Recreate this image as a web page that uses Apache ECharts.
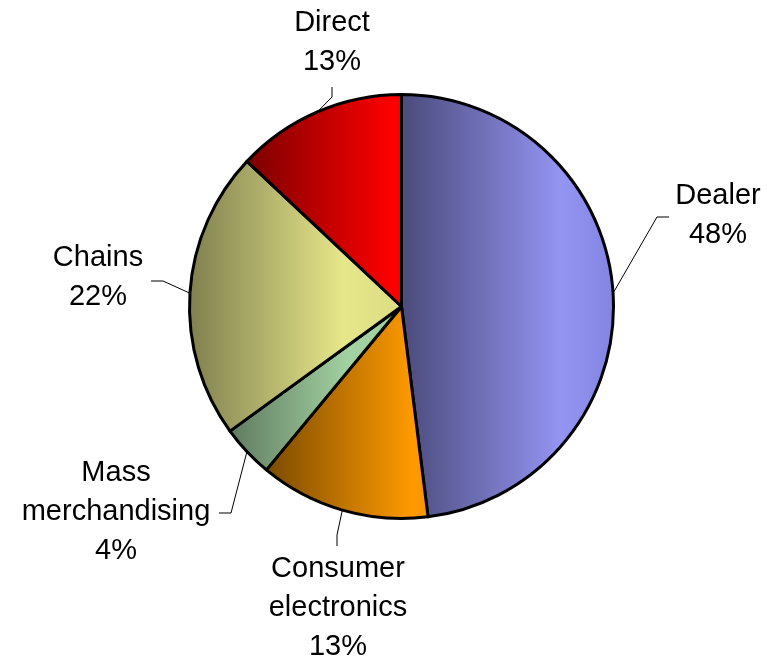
<!DOCTYPE html>
<html>
<head>
<meta charset="utf-8">
<script src="https://cdn.jsdelivr.net/npm/echarts@6/dist/echarts.min.js"></script>
<style>
  html, body { margin: 0; padding: 0; background: #ffffff; }
  #chart { width: 767px; height: 659px; }
</style>
</head>
<body>
<div id="chart"></div>
<script>
// Sales channel shares (percent), clockwise from 12 o'clock
const channels = ['Dealer', 'Consumer\nelectronics', 'Mass\nmerchandising', 'Chains', 'Direct'];
const shares = [48, 13, 4, 22, 13];

// Slice shading: dark edge -> highlight -> soft falloff
const shadeDark  = ['#4a4a7a', '#7a4a00', '#5f7a5f', '#7f7f4f', '#7a0000'];
const shadeLight = ['#9494f3', '#ff9a00', '#a3d3a3', '#e6e68a', '#ff0000'];
const shadeEnd   = ['#8383e2', '#f59400', '#9cca9c', '#dcdc84', '#f60000'];
const highlightAt = [0.75, 0.9, 0.7, 0.72, 0.95];

// Label block centres and leader-line elbows / ends
const labelPlacement = [
  { x: 718, y: 215, elbow: [657, 217], end: [669, 217] },
  { x: 338, y: 608, elbow: [337, 535], end: [337, 546] },
  { x: 116, y: 512, elbow: [231, 513], end: [219, 513] },
  { x: 98,  y: 277, elbow: [163, 281], end: [151, 281] },
  { x: 332, y: 42,  elbow: [332, 97],  end: [332, 87] }
];

const pieData = channels.map((name, i) => ({
  name: name,
  value: shares[i],
  itemStyle: {
    color: {
      type: 'linear', x: 0, y: 0, x2: 1, y2: 0,
      colorStops: [
        { offset: 0, color: shadeDark[i] },
        { offset: highlightAt[i], color: shadeLight[i] },
        { offset: 1, color: shadeEnd[i] }
      ]
    }
  }
}));

const chart = echarts.init(document.getElementById('chart'), null, { renderer: 'canvas' });
chart.setOption({
  backgroundColor: '#ffffff',
  animation: false,
  series: [{
    type: 'pie',
    center: [401.5, 306.5],
    radius: 212,
    startAngle: 90,
    clockwise: true,
    avoidLabelOverlap: false,
    data: pieData,
    itemStyle: { borderColor: '#000000', borderWidth: 3 },
    label: {
      show: true,
      position: 'outside',
      formatter: '{b}\n{c}%',
      fontFamily: '"Liberation Sans", Arial, sans-serif',
      fontSize: 29,
      lineHeight: 39,
      color: '#000000'
    },
    labelLine: {
      show: true,
      length: 20,
      length2: 10,
      lineStyle: { color: '#000000', width: 1 }
    },
    labelLayout: function (params) {
      const p = labelPlacement[params.dataIndex];
      const start = params.labelLinePoints ? params.labelLinePoints[0] : p.elbow;
      return {
        x: p.x,
        y: p.y,
        align: 'center',
        verticalAlign: 'middle',
        labelLinePoints: [start, p.elbow, p.end]
      };
    },
    emphasis: { disabled: true }
  }]
});
</script>
</body>
</html>
